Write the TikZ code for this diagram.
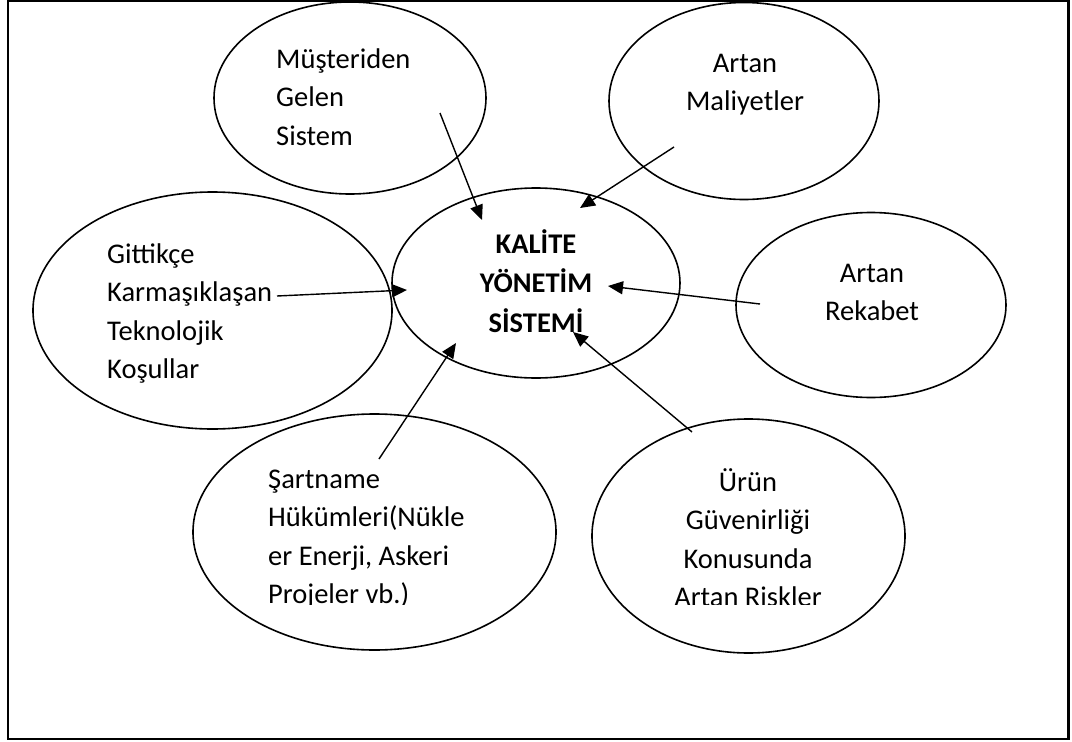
\documentclass[tikz,border=0pt]{standalone}
\usepackage{fontspec}
\setmainfont{Carlito}
\usetikzlibrary{arrows.meta,shapes.geometric}
\begin{document}
\begin{tikzpicture}[x=1pt,y=-1pt,
  oval/.style={draw, ellipse, line width=1.6pt, inner sep=0pt},
  txt/.style={inner sep=0pt, font=\fontsize{28.5}{38.5}\selectfont},
  btxt/.style={inner sep=0pt, font=\fontsize{28.5}{39.5}\selectfont\bfseries},
  arr/.style={-{Triangle[length=15pt,width=13pt]}, line width=1.4pt},
  frameline/.style={line width=2.3pt}
]
\useasboundingbox (0,0) rectangle (1072,742);
\draw[frameline] (8,1) rectangle (1068.5,739);

% ellipses
\node[oval, minimum width=272pt, minimum height=192pt] (mus) at (350,98) {};
\node[oval, minimum width=270pt, minimum height=197pt] (mal) at (744,101) {};
\node[oval, minimum width=359pt, minimum height=237pt] (git) at (212.5,310.5) {};
\node[oval, minimum width=288pt, minimum height=190pt] (kal) at (536,283) {};
\node[oval, minimum width=270pt, minimum height=185pt] (rek) at (871,305) {};
\node[oval, minimum width=363pt, minimum height=236pt] (sar) at (374.5,532) {};
\node[oval, minimum width=313pt, minimum height=234pt] (urn) at (748.5,536) {};

% texts
\node[txt, anchor=base west] (must) at (276,68) {\parbox[t]{200pt}{\raggedright Müşteriden\\Gelen\\Sistem}};
\node[txt, anchor=base] (malt) at (745,72) {\parbox[t]{240pt}{\centering Artan\\Maliyetler}};
\node[txt, anchor=base west] (gitt) at (107,263) {\parbox[t]{260pt}{\raggedright Gittikçe\\Karmaşıklaşan\\Teknolojik\\Koşullar}};
\node[btxt, anchor=base] (kalt) at (536,253) {\parbox[t]{240pt}{\centering KALİTE\\YÖNETİM\\SİSTEMİ}};
\node[txt, anchor=base] (rekt) at (872,282) {\parbox[t]{240pt}{\centering Artan\\Rekabet}};
\begin{scope}
  \clip (150,400) rectangle (560,604);
  \node[txt, anchor=base west] (sart) at (268,488) {\parbox[t]{260pt}{\raggedright Şartname\\Hükümleri(Nükle\\er Enerji, Askeri\\Projeler vb.)}};
\end{scope}
\begin{scope}
  \clip (590,400) rectangle (910,604);
  \node[txt, anchor=base] (urnt) at (748,491) {\parbox[t]{260pt}{\centering Ürün\\Güvenirliği\\Konusunda\\Artan Riskler}};
\end{scope}

% connector ends
\coordinate (s1) at (440,113);  \coordinate (t1) at (482,220);
\coordinate (s2) at (674,147);  \coordinate (t2) at (580,208);
\coordinate (s3) at (277,296);  \coordinate (t3) at (407,290);
\coordinate (s4) at (760,304);  \coordinate (t4) at (608,286);
\coordinate (s5) at (379,459);  \coordinate (t5) at (456,343);
\coordinate (s6) at (692,432);  \coordinate (t6) at (573,332);

\draw[arr] (s1) -- (t1);
\draw[arr] (s2) -- (t2);
\draw[arr] (s3) -- (t3);
\draw[arr] (s4) -- (t4);
\draw[arr] (s5) -- (t5);
\draw[arr] (s6) -- (t6);
\end{tikzpicture}
\end{document}
